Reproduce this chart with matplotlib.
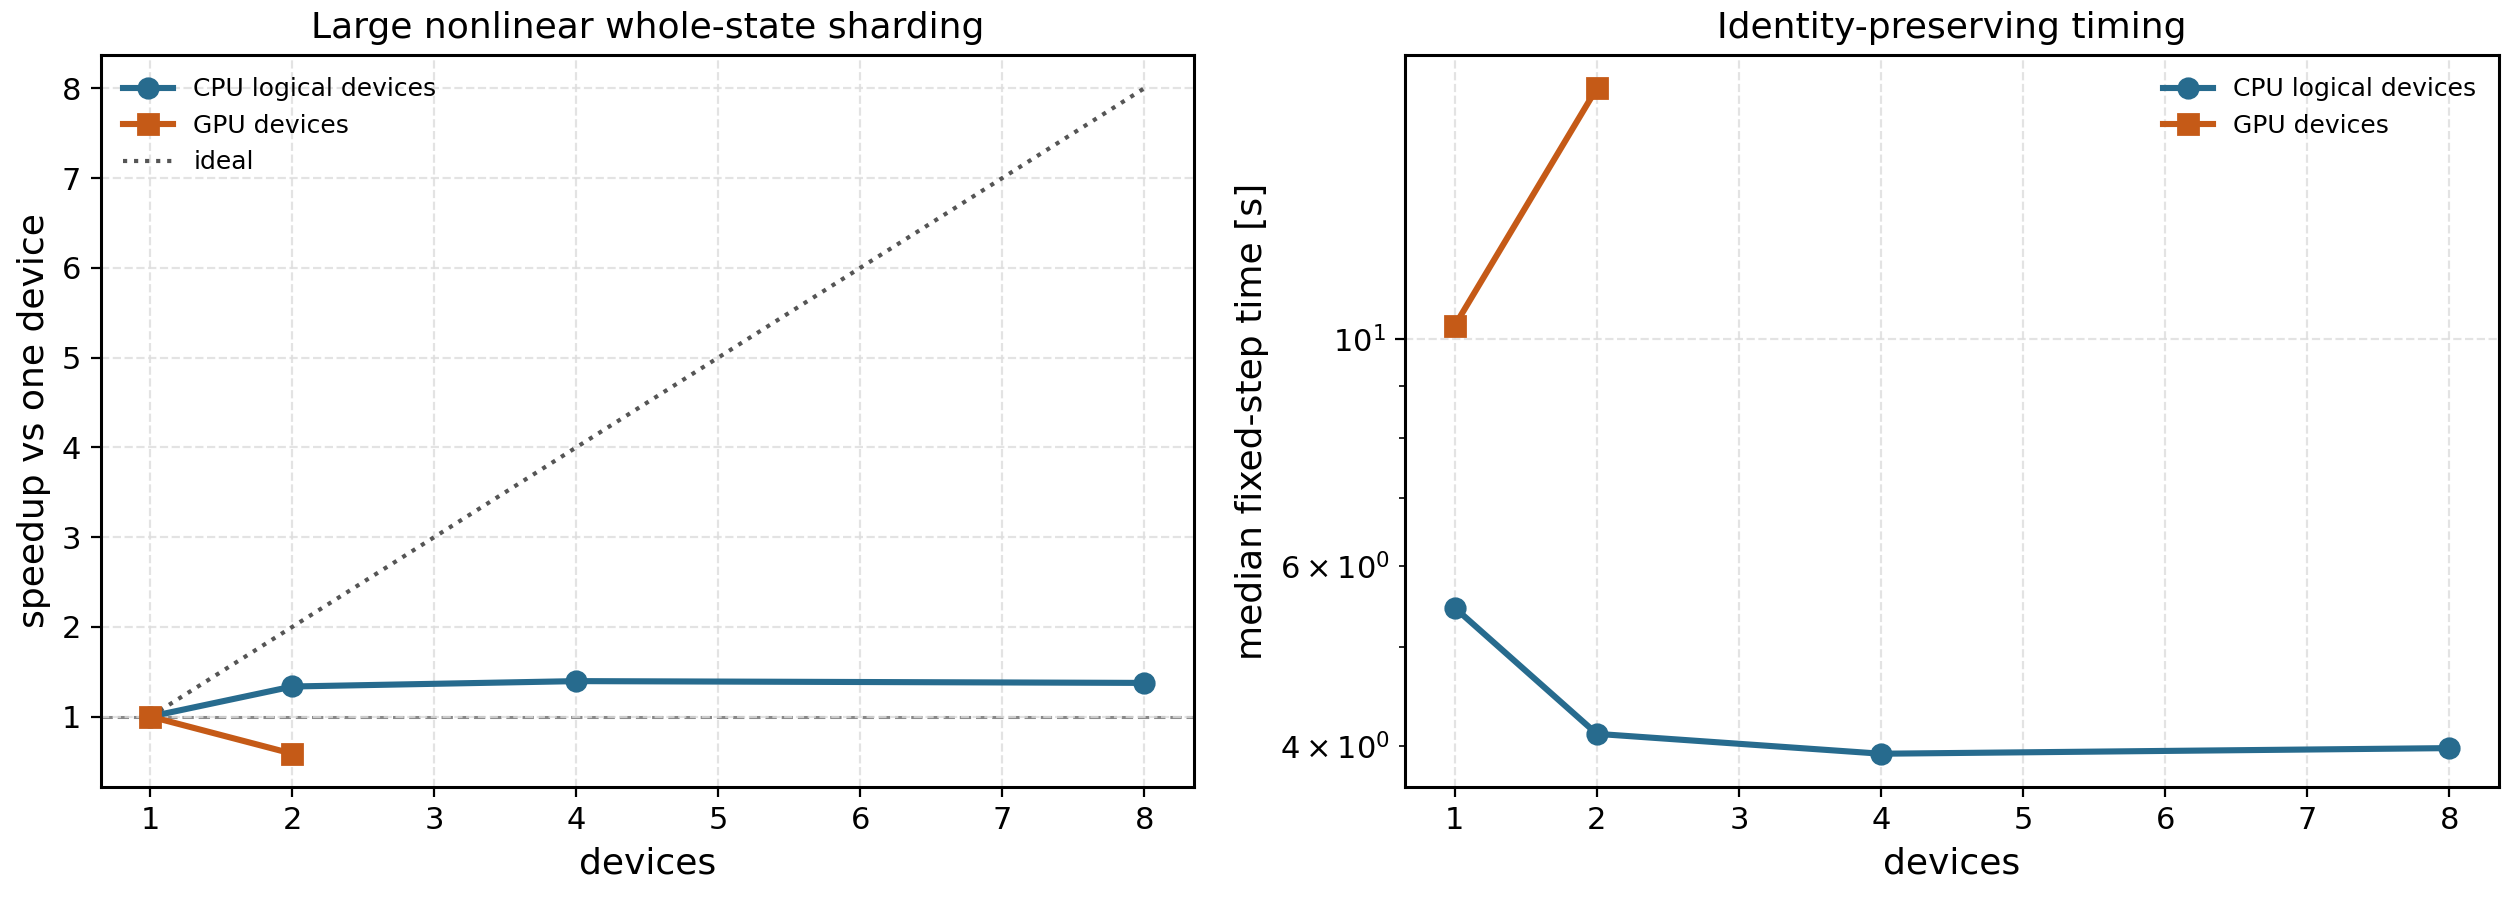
import matplotlib
matplotlib.use("Agg")
import matplotlib.pyplot as plt

devices_cpu = [1, 2, 4, 8]
devices_gpu = [1, 2]
speedup_cpu = [1.0, 1.335, 1.395, 1.375]
speedup_gpu = [1.0, 0.586]
ideal_x = [1, 8]
ideal_y = [1, 8]
time_cpu = [5.46, 4.11, 3.93, 3.98]
time_gpu = [10.31, 17.6]

BLUE = "#276b8e"
ORANGE = "#c55a17"

fig = plt.figure(figsize=(12.54, 4.505), dpi=200)
ax1 = fig.add_axes([100.7/2508, 1-787/901, (1194-100.7)/2508, (787-55)/901])
ax2 = fig.add_axes([1405/2508, 1-787/901, (2499-1405)/2508, (787-55)/901])

grid_kw = dict(color="#dddddd", linestyle="--", linewidth=0.8, alpha=0.8)

ax1.plot(devices_cpu, speedup_cpu, "-o", color=BLUE, lw=2.2, ms=7, label="CPU logical devices", zorder=3)
ax1.plot(devices_gpu, speedup_gpu, "-s", color=ORANGE, lw=2.2, ms=7, label="GPU devices", zorder=3)
ax1.plot(ideal_x, ideal_y, ":", color="#555555", lw=1.5, label="ideal", zorder=2)
ax1.axhline(1.0, color="#888888", ls="--", lw=1.1, zorder=1)
ax1.set_title("Large nonlinear whole-state sharding", fontsize=13)
ax1.set_xlabel("devices", fontsize=13)
ax1.set_ylabel("speedup vs one device", fontsize=13)
ax1.tick_params(labelsize=11)
ax1.grid(True, **grid_kw)
ax1.legend(loc="upper left", frameon=False, fontsize=9)

ax2.plot(devices_cpu, time_cpu, "-o", color=BLUE, lw=2.2, ms=7, label="CPU logical devices", zorder=3)
ax2.plot(devices_gpu, time_gpu, "-s", color=ORANGE, lw=2.2, ms=7, label="GPU devices", zorder=3)
ax2.set_yscale("log")
ax2.set_title("Identity-preserving timing", fontsize=13)
ax2.set_xlabel("devices", fontsize=13)
ax2.set_ylabel("median fixed-step time [s]", fontsize=13)
ax2.tick_params(which="both", labelsize=11)
ax2.grid(True, which="major", **grid_kw)
ax2.legend(loc="upper right", frameon=False, fontsize=9)

for ax in (ax1, ax2):
    ax.set_xticks(range(1, 9))
    for s in ax.spines.values():
        s.set_linewidth(1.1)

fig.savefig("out.png", dpi=200)
